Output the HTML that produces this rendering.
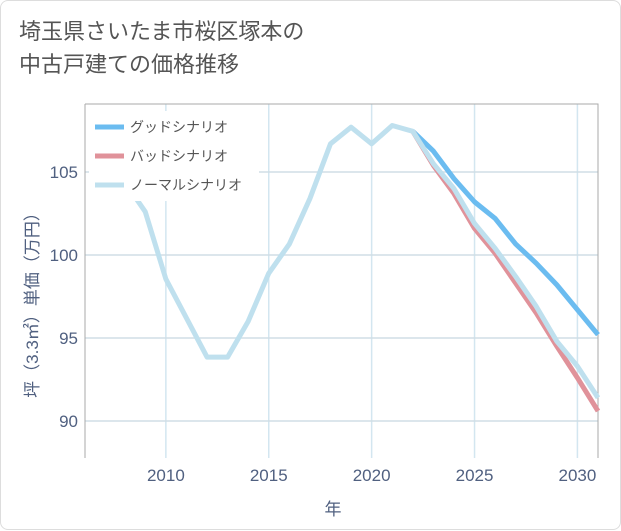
<!DOCTYPE html>
<html><head><meta charset="utf-8"><style>
body{margin:0;background:#fff;font-family:"Liberation Sans","Noto Sans CJK JP",sans-serif;}
.card{position:absolute;left:0;top:0;width:619px;height:528px;border:1px solid #ddd;border-radius:8px;background:#fff;}
.title{position:absolute;left:18px;top:14px;font-size:22px;line-height:33px;color:#555;}
</style></head><body>
<div class="card">
<div class="title">埼玉県さいたま市桜区塚本の<br>中古戸建ての価格推移</div>
<svg id="chart" width="621" height="530" style="position:absolute;left:0;top:0"></svg>
</div>
<script>
const years=[2008,2009,2010,2011,2012,2013,2014,2015,2016,2017,2018,2019,2020,2021,2022,2023,2024,2025,2026,2027,2028,2029,2030,2031];
const goodValues=[null,null,null,null,null,null,null,null,null,null,null,null,null,null,107.45,106.26,104.6,103.2,102.2,100.66,99.5,98.2,96.7,95.2];
const badValues=[null,null,null,null,null,null,null,null,null,null,null,null,null,null,107.45,105.4,103.7,101.6,100.1,98.3,96.5,94.5,92.6,90.6];
const normalValues=[104.4,102.6,98.55,96.2,93.85,93.85,96.0,98.9,100.66,103.4,106.7,107.7,106.7,107.8,107.45,105.5,104.0,101.9,100.4,98.7,96.9,94.8,93.3,91.4];
const xTicks=[2010,2015,2020,2025,2030];
const yTicks=[90,95,100,105];
const NS="http://www.w3.org/2000/svg";
const svg=document.getElementById('chart');
const L=84,R=597,T=103,B=457;
const x=v=>L+(v-2006.07)*(R-L)/(2031-2006.07);
const y=v=>254-(v-100)*16.6;
function mk(t,a){const e=document.createElementNS(NS,t);for(const k in a)e.setAttribute(k,a[k]);svg.appendChild(e);return e;}
for(const t of xTicks){const l=mk('line',{x1:x(t),x2:x(t),y1:T,y2:B,stroke:'#d3e6f0','stroke-width':1.5});

const tx=mk('text',{x:x(t),y:480,'text-anchor':'middle','font-size':17,fill:'#506080'});tx.textContent=t;
}
for(const t of yTicks){const l=mk('line',{x1:L,x2:R,y1:y(t),y2:y(t),stroke:'#d0dde5','stroke-width':1.5});

const tx=mk('text',{x:77,y:y(t)+6,'text-anchor':'end','font-size':17,fill:'#506080'});tx.textContent=t;
}
const ax=mk('path',{d:`M${L},${T}V${B}M${L},${T}H${R}V${B}`,fill:'none',stroke:'#aaa','stroke-width':1});

function line(vals,color,name){let d='';vals.forEach((v,i)=>{if(v==null)return;d+=(d?'L':'M')+x(years[i])+','+y(v);});
const p=mk('path',{d:d,fill:'none',stroke:color,'stroke-width':5,'stroke-linejoin':'round'});
}
line(goodValues,'#6bbcf0','good-scenario-line');
line(badValues,'#e0929a','bad-scenario-line');
line(normalValues,'#bfe0ee','normal-scenario-line');
const lg=mk('rect',{x:88,y:110,width:170,height:90,fill:'#fff'});

[['グッドシナリオ','#6bbcf0'],['バッドシナリオ','#e0929a'],['ノーマルシナリオ','#bfe0ee']].forEach((e,i)=>{
const yy=126+i*29;
const s=mk('line',{x1:94,x2:123,y1:yy,y2:yy,stroke:e[1],'stroke-width':5});

const t=mk('text',{x:129,y:yy+5,'font-size':14,fill:'#555'});t.textContent=e[0];
});
const xt=mk('text',{x:332,y:514,'text-anchor':'middle','font-size':17,fill:'#506080'});xt.textContent='年';

const yt=mk('text',{x:0,y:0,'text-anchor':'middle','font-size':17,fill:'#506080',transform:'translate(37,300) rotate(-90)'});yt.textContent='坪（3.3㎡）単価（万円）';

</script>
</body></html>
